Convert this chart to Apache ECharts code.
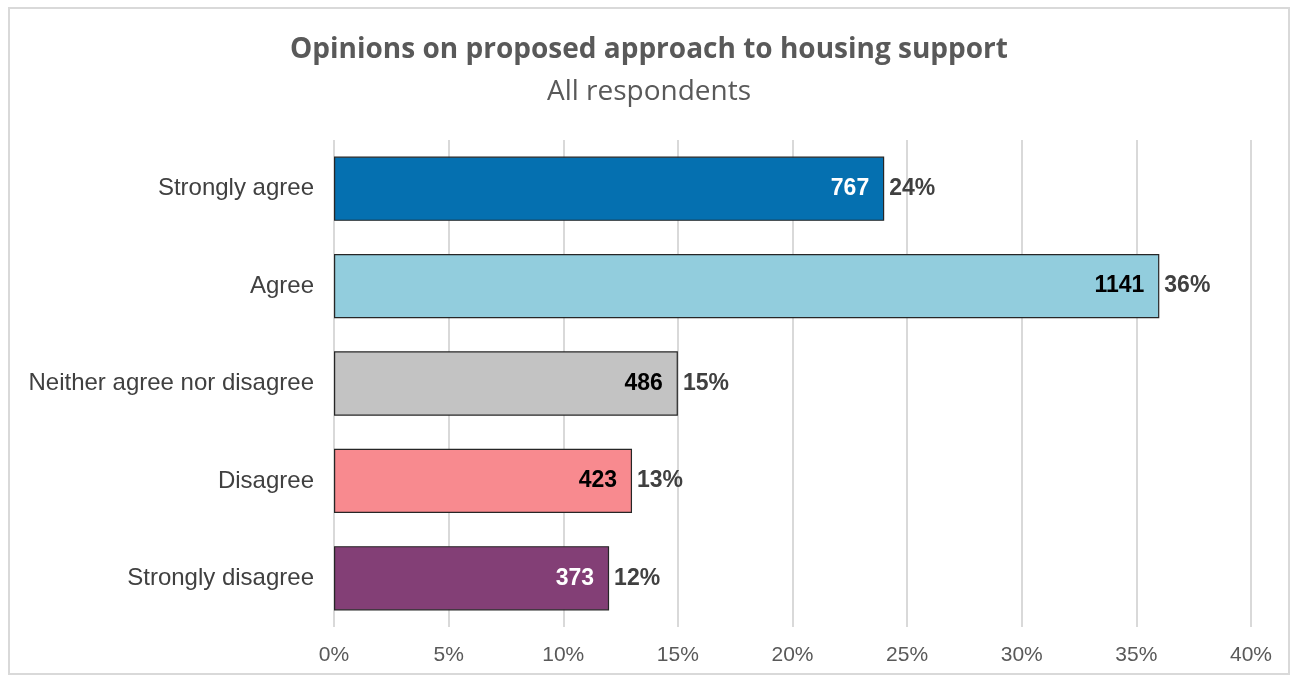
<!DOCTYPE html>
<html>
<head>
<meta charset="utf-8">
<script src="https://cdn.jsdelivr.net/npm/echarts@6/dist/echarts.min.js"></script>
<style>
  html, body { margin: 0; padding: 0; background: #ffffff; }
  #frame {
    position: absolute; left: 8px; top: 7px; width: 1282px; height: 668px;
    border: 2px solid #d9d9d9; box-sizing: border-box;
  }
  #chart { position: absolute; left: 0; top: 0; width: 1298px; height: 677px; }
</style>
</head>
<body>
<div id="frame"></div>
<div id="chart"></div>
<script>
// Response categories, top to bottom
const categories = ['Strongly agree', 'Agree', 'Neither agree nor disagree', 'Disagree', 'Strongly disagree'];
// Number of respondents per answer
const counts = [767, 1141, 486, 423, 373];
// Share of all respondents, in percent
const shares = [24, 36, 15, 13, 12];
// Bar fills per answer
const barColors = ['#0570b0', '#92cddd', '#c3c3c3', '#f88a8f', '#833f76'];
// Count label colours (light on dark fills)
const countColors = ['#ffffff', '#000000', '#000000', '#000000', '#ffffff'];
// Value axis ticks
const tickValues = [0, 5, 10, 15, 20, 25, 30, 35, 40];

const chart = echarts.init(document.getElementById('chart'), null, { renderer: 'canvas' });

const barData = shares.map((v, i) => ({
  value: v,
  count: counts[i],
  itemStyle: { color: barColors[i] },
  label: { color: countColors[i] }
}));

chart.setOption({
  animation: false,
  title: {
    text: 'Opinions on proposed approach to housing support',
    subtext: 'All respondents',
    left: 'center',
    top: 31,
    itemGap: 14,
    textStyle: { fontFamily: 'Open Sans', fontWeight: 'bold', fontSize: 28, color: '#595959' },
    subtextStyle: { fontFamily: 'Open Sans', fontWeight: 'normal', fontSize: 28, color: '#595959' }
  },
  grid: { left: 334, right: 47, top: 140, bottom: 50, containLabel: false },
  xAxis: {
    type: 'value',
    min: tickValues[0],
    max: tickValues[tickValues.length - 1],
    interval: 5,
    axisLine: { show: false },
    axisTick: { show: false },
    splitLine: { show: true, lineStyle: { color: '#d9d9d9', width: 2 } },
    axisLabel: {
      formatter: v => v + '%',
      fontFamily: 'Liberation Sans',
      fontSize: 21,
      color: '#595959',
      margin: 18
    }
  },
  yAxis: {
    type: 'category',
    inverse: true,
    data: categories,
    axisLine: { show: false },
    axisTick: { show: false },
    axisLabel: {
      fontFamily: 'Liberation Sans',
      fontSize: 24,
      color: '#404040',
      margin: 20
    }
  },
  series: [
    {
      type: 'bar',
      data: barData,
      barCategoryGap: '34%',
      itemStyle: { borderColor: '#262626', borderWidth: 1.2 },
      label: {
        show: true,
        position: 'insideRight',
        distance: 15,
        formatter: p => String(p.data.count),
        fontFamily: 'Liberation Sans',
        fontWeight: 'bold',
        fontSize: 23
      },
      z: 3
    },
    {
      // Percentage labels placed just past each bar end
      type: 'bar',
      data: shares,
      barGap: '-100%',
      barCategoryGap: '34%',
      itemStyle: { color: 'rgba(0,0,0,0)' },
      label: {
        show: true,
        position: 'right',
        distance: 5,
        formatter: p => p.value + '%',
        fontFamily: 'Liberation Sans',
        fontWeight: 'bold',
        fontSize: 23,
        color: '#404040'
      },
      silent: true,
      z: 2
    }
  ]
});
</script>
</body>
</html>
